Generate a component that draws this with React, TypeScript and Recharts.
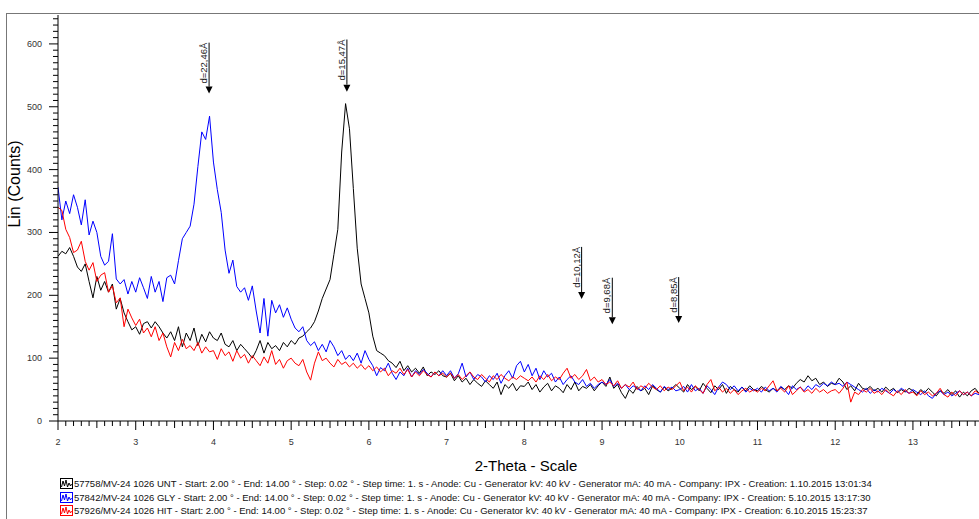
import { LineChart, Line, XAxis, YAxis, ReferenceLine } from "recharts";

// 2-theta grid of the digitised scans (every 0.05°, from 2.00° to 13.85°)
const THETA_START = 2;
const THETA_STEP = 0.05;

// counts, one row per degree
const untCounts = [
  262, 270, 266, 276, 262, 245, 238, 250, 222, 196, 230, 208, 222, 205, 218, 178, 195, 172, 158, 145,
  150, 138, 155, 158, 148, 158, 150, 140, 132, 142, 128, 150, 118, 140, 128, 148, 120, 138, 126, 142,
  132, 128, 140, 122, 118, 128, 112, 122, 115, 108, 100, 112, 128, 108, 125, 115, 120, 112, 125, 118,
  128, 122, 132, 135, 142, 148, 158, 175, 195, 210, 225, 265, 305, 428, 505, 465, 370, 275, 218, 195,
  172, 135, 112, 108, 104, 96, 92, 85, 95, 80, 88, 78, 84, 76, 86, 72, 78, 74, 80, 72,
  70, 76, 64, 72, 62, 68, 58, 66, 60, 55, 64, 58, 52, 62, 42, 58, 52, 60, 48, 56,
  55, 62, 50, 58, 46, 54, 60, 48, 56, 52, 45, 58, 50, 62, 48, 55, 52, 58, 48, 56,
  62, 55, 70, 52, 58, 45, 36, 50, 44, 55, 48, 52, 42, 56, 50, 46, 54, 48, 52, 58,
  52, 46, 58, 50, 55, 48, 60, 52, 45, 56, 50, 58, 44, 55, 50, 46, 54, 48, 56, 50,
  48, 55, 50, 46, 52, 48, 54, 50, 56, 52, 60, 66, 62, 72, 64, 68, 58, 62, 55, 60,
  58, 68, 62, 50, 56, 48, 60, 52, 50, 55, 48, 52, 46, 54, 48, 52, 45, 50, 46, 52,
  48, 42, 50, 45, 52, 46, 40, 48, 44, 50, 42, 48, 38, 46, 40, 48, 52, 44,
];

const glyCounts = [
  372, 320, 350, 330, 360, 340, 312, 352, 296, 318, 300, 262, 248, 254, 298, 226, 218, 225, 202, 222,
  205, 228, 212, 195, 230, 205, 222, 190, 228, 232, 218, 255, 290, 300, 310, 345, 405, 460, 448, 485,
  412, 368, 332, 272, 235, 256, 214, 205, 212, 192, 215, 175, 140, 195, 135, 192, 172, 185, 165, 180,
  162, 148, 142, 150, 128, 120, 126, 112, 122, 110, 128, 118, 104, 112, 98, 105, 96, 108, 92, 112,
  98, 88, 72, 85, 80, 92, 76, 66, 78, 72, 84, 70, 80, 74, 82, 76, 70, 78, 72, 80,
  72, 80, 68, 75, 92, 70, 78, 66, 74, 70, 62, 72, 66, 76, 60, 72, 80, 68, 88, 95,
  78, 90, 72, 84, 66, 80, 70, 76, 62, 70, 58, 66, 72, 62, 58, 66, 55, 60, 52, 58,
  62, 58, 66, 55, 60, 52, 58, 50, 56, 52, 48, 56, 50, 58, 52, 46, 55, 50, 54, 48,
  50, 55, 46, 58, 48, 52, 44, 56, 50, 42, 54, 62, 58, 50, 56, 48, 54, 46, 52, 48,
  52, 46, 54, 48, 52, 46, 55, 50, 42, 56, 50, 54, 48, 56, 50, 58, 54, 60, 56, 62,
  58, 60, 55, 62, 58, 54, 50, 46, 52, 44, 50, 46, 52, 48, 44, 50, 46, 52, 48, 44,
  50, 46, 42, 48, 40, 36, 44, 48, 42, 46, 40, 44, 48, 42, 46, 40, 44, 42,
];

const hitCounts = [
  340, 335, 305, 292, 268, 272, 286, 254, 240, 252, 222, 232, 236, 205, 215, 188, 196, 150, 178, 164,
  152, 162, 140, 148, 134, 150, 128, 140, 118, 102, 125, 112, 130, 115, 120, 112, 125, 108, 118, 110,
  112, 98, 115, 104, 110, 95, 112, 100, 106, 92, 104, 96, 88, 102, 92, 112, 90, 98, 84, 96,
  100, 92, 88, 98, 78, 65, 92, 110, 96, 100, 92, 86, 98, 90, 94, 86, 92, 84, 90, 82,
  88, 80, 86, 78, 84, 72, 80, 76, 84, 74, 82, 70, 78, 72, 80, 74, 70, 78, 72, 76,
  70, 76, 68, 74, 66, 72, 78, 70, 66, 74, 68, 62, 72, 66, 74, 68, 64, 70, 66, 72,
  68, 64, 70, 62, 72, 66, 74, 64, 70, 66, 76, 84, 68, 74, 66, 72, 82, 64, 70, 62,
  66, 58, 62, 56, 64, 52, 58, 54, 62, 50, 56, 52, 60, 54, 50, 56, 48, 54, 50, 56,
  62, 48, 54, 46, 56, 50, 44, 58, 66, 48, 54, 46, 52, 44, 50, 42, 48, 52, 46, 50,
  46, 52, 48, 56, 64, 48, 52, 46, 56, 42, 48, 54, 46, 50, 44, 52, 46, 50, 44, 48,
  50, 44, 52, 62, 30, 46, 42, 50, 46, 52, 44, 48, 42, 50, 44, 40, 48, 42, 50, 44,
  46, 40, 48, 42, 46, 40, 44, 52, 42, 38, 46, 40, 48, 42, 46, 40, 48, 44,
];

const seriesKeys = ["unt", "gly", "hit"];
const seriesColors = ["#000000", "#0000ff", "#ff0000"];
const seriesNames = [
  "57758/MV-24 1026 UNT - Start: 2.00 ° - End: 14.00 ° - Step: 0.02 ° - Step time: 1. s - Anode: Cu - Generator kV: 40 kV - Generator mA: 40 mA - Company: IPX - Creation: 1.10.2015 13:01:34",
  "57842/MV-24 1026 GLY - Start: 2.00 ° - End: 14.00 ° - Step: 0.02 ° - Step time: 1. s - Anode: Cu - Generator kV: 40 kV - Generator mA: 40 mA - Company: IPX - Creation: 5.10.2015 13:17:30",
  "57926/MV-24 1026 HIT - Start: 2.00 ° - End: 14.00 ° - Step: 0.02 ° - Step time: 1. s - Anode: Cu - Generator kV: 40 kV - Generator mA: 40 mA - Company: IPX - Creation: 6.10.2015 15:23:37",
];

// peak markers: label, 2-theta, arrow top and arrow tip (counts)
const peakLabels = ["d=22,46Å", "d=15,47Å", "d=10,12Å", "d=9,68Å", "d=8,85Å"];
const peakTheta = [3.944, 5.717, 8.737, 9.132, 9.986];
const peakTop = [602, 607, 277, 228, 229];
const peakTip = [521, 524, 194, 154, 156];

const X_DOMAIN: [number, number] = [2, 13.85];
const Y_DOMAIN: [number, number] = [0, 646];
const xTicks = Array.from({ length: 119 }, (_, i) => Math.round((2 + i * 0.1) * 10) / 10);
const yTicks = Array.from({ length: 65 }, (_, i) => i * 10);

const FONT = "'Liberation Sans', Arial, sans-serif";

const data = untCounts.map((v, i) => ({
  theta: +(THETA_START + i * THETA_STEP).toFixed(2),
  unt: v,
  gly: glyCounts[i],
  hit: hitCounts[i],
}));

const XTick = ({ x, y, payload }: any) => {
  const v = payload.value as number;
  const major = Math.abs(v - Math.round(v)) < 1e-6;
  const half = !major && Math.abs(v * 2 - Math.round(v * 2)) < 1e-6;
  const len = major ? 9 : half ? 7 : 5;
  return (
    <g>
      <line x1={x} x2={x} y1={y} y2={y + len} stroke="#000" />
      {major && (
        <text x={x} y={y + 21} textAnchor="middle" dominantBaseline="central" fontSize={9} fill="#333">
          {Math.round(v)}
        </text>
      )}
    </g>
  );
};

const YTick = ({ x, y, payload }: any) => {
  const v = payload.value as number;
  const major = v % 100 === 0;
  return (
    <g>
      <line x1={x - (major ? 9 : 5)} x2={x} y1={y} y2={y} stroke="#000" />
      {major && (
        <text x={x - 16} y={y} textAnchor="end" dominantBaseline="central" fontSize={9} fill="#333">
          {v}
        </text>
      )}
    </g>
  );
};

const arrowShape = (label: string) => (p: any) => {
  const { x1, y1, x2, y2 } = p;
  const head = 7;
  return (
    <g>
      <line x1={x1} y1={y1} x2={x2} y2={y2 - head} stroke="#000" strokeWidth={1} />
      <polygon points={`${x2 - 3.5},${y2 - head} ${x2 + 3.5},${y2 - head} ${x2},${y2}`} fill="#000" />
      <text
        x={x1 - 2}
        y={y1}
        transform={`rotate(-90 ${x1 - 2} ${y1})`}
        textAnchor="end"
        fontSize={9.5}
        fill="#222"
      >
        {label}
      </text>
    </g>
  );
};

const LegendIcon = ({ color }: { color: string }) => (
  <svg width={13} height={11} style={{ marginRight: 1, flexShrink: 0 }}>
    <rect x={0.5} y={0.5} width={12} height={10} fill="#fff" stroke={color} />
    <polyline points="1.5,9 3,3 4.5,8 6,2 7.5,9 9,5 10.5,8 11.5,6" fill="none" stroke={color} strokeWidth={1} />
  </svg>
);

export default function App() {
  return (
    <div style={{ position: "absolute", left: 0, top: 0, width: 979, height: 519, overflow: "hidden", fontFamily: FONT, background: "#fff" }}>
      <div style={{ position: "absolute", left: 6, top: 13, width: 980, height: 520, borderTop: "1px solid #777", borderLeft: "1px solid #777" }} />
      <LineChart width={979} height={519} data={data} margin={{ top: 15, right: 0, left: 18, bottom: 68 }} style={{ position: "absolute", left: 0, top: 0 }}>
        <XAxis
          dataKey="theta"
          type="number"
          domain={X_DOMAIN}
          allowDataOverflow
          ticks={xTicks}
          interval={0}
          tickSize={0}
          tickMargin={0}
          tick={XTick}
          height={30}
          axisLine={{ stroke: "#000" }}
        />
        <YAxis
          type="number"
          domain={Y_DOMAIN}
          allowDataOverflow
          ticks={yTicks}
          interval={0}
          tickSize={0}
          tickMargin={0}
          tick={YTick}
          width={40}
          axisLine={{ stroke: "#000" }}
        />
        {seriesKeys.map((k, i) => (
          <Line
            key={k}
            dataKey={k}
            name={seriesNames[i]}
            type="linear"
            stroke={seriesColors[i]}
            strokeWidth={1}
            dot={false}
            activeDot={false}
            isAnimationActive={false}
          />
        ))}
        {peakLabels.map((label, i) => (
          <ReferenceLine
            key={label}
            segment={[
              { x: peakTheta[i], y: peakTop[i] },
              { x: peakTheta[i], y: peakTip[i] },
            ]}
            stroke="#000"
            shape={arrowShape(label)}
          />
        ))}
      </LineChart>
      <div style={{ position: "absolute", left: 15, top: 184, transform: "translate(-50%, -50%) rotate(-90deg)", fontSize: 16, whiteSpace: "nowrap", color: "#000" }}>
        Lin (Counts)
      </div>
      <div style={{ position: "absolute", left: 526, top: 465, transform: "translate(-50%, -50%)", fontSize: 15, whiteSpace: "nowrap", color: "#000" }}>
        2-Theta - Scale
      </div>
      <div style={{ position: "absolute", left: 60, top: 477 }}>
        {seriesNames.map((name, i) => (
          <div key={name} style={{ display: "flex", alignItems: "center", height: 13.5, fontSize: 9.5, whiteSpace: "nowrap", color: "#111" }}>
            <LegendIcon color={seriesColors[i]} />
            <span>{name}</span>
          </div>
        ))}
      </div>
    </div>
  );
}
